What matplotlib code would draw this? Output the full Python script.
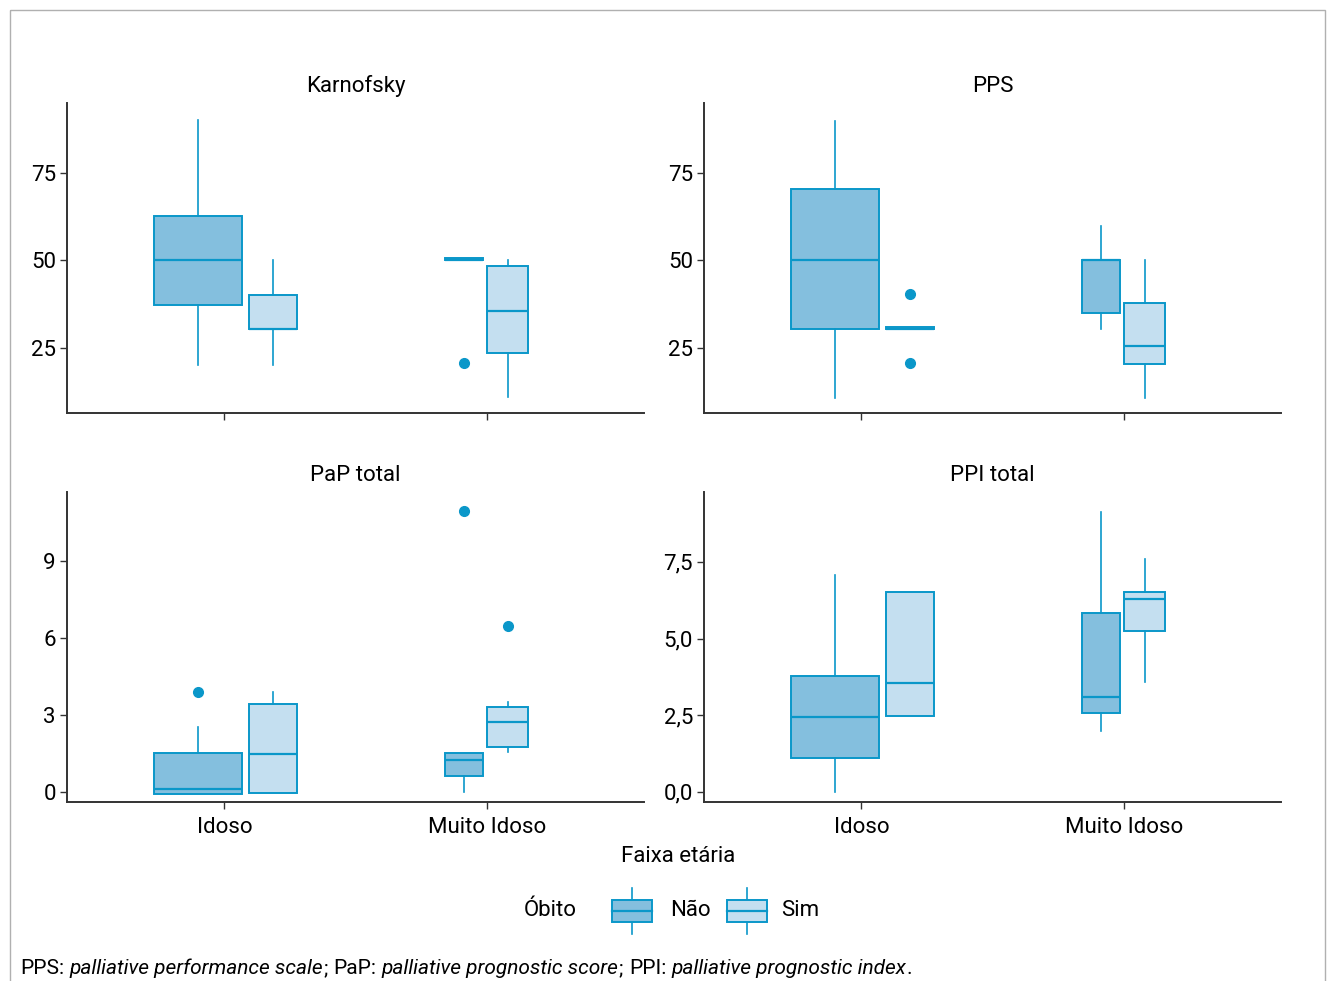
import matplotlib
matplotlib.use("Agg")
import matplotlib.pyplot as plt
from matplotlib.patches import Rectangle
from matplotlib.ticker import FuncFormatter
import numpy as np

plt.rcParams.update({"font.family": ["Roboto", "DejaVu Sans"], "font.size": 16})

W, H = 1330, 981
EDGE = "#0a97c9"
FILL = {"Não": "#84bfde", "Sim": "#c4dff0"}
AXC = "#333333"

FAIXA = ["Idoso", "Muito Idoso"]
OBITO = ["Não", "Sim"]
# patients per group (box width ~ sqrt(n)), [faixa][obito]
N_GRUPO = [[27, 8], [5, 6]]

# box stats (whislo, q1, med, q3, whishi), [faixa][obito]
KARNOFSKY = [[(20, 37.3, 50, 62.7, 89.9), (20, 30.3, 30.3, 40, 50)],
             [(50, 50, 50, 50.6, 50.6), (10.9, 23.5, 35.5, 48.3, 50)]]
KARNOFSKY_OUT = [[[], []], [[20.6], []]]

PPS = [[(10.5, 30.2, 50, 70.2, 89.8), (30.2, 30.2, 30.2, 30.9, 30.9)],
       [(30.2, 34.9, 50, 50, 59.8), (10.5, 20.4, 25.5, 37.8, 50)]]
PPS_OUT = [[[], [40.2, 20.6]], [[], []]]

PAP = [[(-0.08, -0.08, 0.1, 1.52, 2.53), (-0.03, -0.03, 1.47, 3.44, 3.9)],
       [(0, 0.63, 1.24, 1.52, 1.52), (1.54, 1.74, 2.72, 3.31, 3.5)]]
PAP_OUT = [[[3.91], []], [[10.96], [6.45]]]

PPI = [[(0, 1.09, 2.44, 3.78, 7.07), (2.49, 2.49, 3.54, 6.52, 6.52)],
       [(2.0, 2.57, 3.11, 5.83, 9.13), (3.58, 5.26, 6.29, 6.52, 7.61)]]
PPI_OUT = [[[], []], [[], []]]

# y-axis range
PANELS = [("Karnofsky", KARNOFSKY, KARNOFSKY_OUT, [25, 50, 75], (6.3, 94.9), False),
          ("PPS", PPS, PPS_OUT, [25, 50, 75], (6.3, 94.9), False),
          ("PaP total", PAP, PAP_OUT, [0, 3, 6, 9], (-0.39, 11.69), False),
          ("PPI total", PPI, PPI_OUT, [0, 2.5, 5, 7.5], (-0.33, 9.78), True)]

# axes boxes in pixels (x0, y0, x1, y1)
BOXES = [(67, 103, 644, 413), (704, 103, 1281, 413),
         (67, 492, 644, 802), (704, 492, 1281, 802)]

fig = plt.figure(figsize=(W / 100, H / 100), dpi=100)

K = 0.0716   # width per sqrt(n), data units
PAD = 0.1

for idx, (title, stats, outs, ticks, ylim, comma) in enumerate(PANELS):
    x0, y0, x1, y1 = BOXES[idx]
    ax = fig.add_axes([x0 / W, 1 - y1 / H, (x1 - x0) / W, (y1 - y0) / H])
    for i, fx in enumerate(FAIXA):
        full = [K * np.sqrt(n) for n in N_GRUPO[i]]
        left = (i + 1) - sum(full) / 2
        for j, ob in enumerate(OBITO):
            lo, q1, med, q3, hi = stats[i][j]
            pos = left + full[j] / 2
            left += full[j]
            st = dict(whislo=lo, q1=q1, med=med, q3=q3, whishi=hi, fliers=outs[i][j])
            ax.bxp([st], positions=[pos], widths=[full[j] * (1 - PAD)], patch_artist=True,
                   showcaps=False,
                   boxprops=dict(facecolor=FILL[ob], edgecolor=EDGE, linewidth=1.4),
                   medianprops=dict(color=EDGE, linewidth=1.6),
                   whiskerprops=dict(color=EDGE, linewidth=1.2),
                   flierprops=dict(marker="o", markerfacecolor=EDGE, markeredgecolor=EDGE,
                                   markersize=7))
    ax.set_ylim(*ylim)
    ax.set_xlim(0.4, 2.6)
    ax.set_xticks([1, 2])
    ax.set_xticklabels(FAIXA if idx >= 2 else ["", ""])
    ax.set_yticks(ticks)
    if comma:
        ax.yaxis.set_major_formatter(FuncFormatter(lambda v, p: f"{v:.1f}".replace(".", ",")))
    else:
        ax.yaxis.set_major_formatter(FuncFormatter(lambda v, p: f"{v:g}"))
    for s in ("top", "right"):
        ax.spines[s].set_visible(False)
    for s in ("left", "bottom"):
        ax.spines[s].set_color(AXC)
        ax.spines[s].set_linewidth(1.4)
    ax.tick_params(length=5, width=1, color=AXC, labelsize=16, pad=3)
    ax.tick_params(axis="x", pad=6)
    ax.set_facecolor("none")
    ax.set_title(title, fontsize=16, pad=8)

# overlay in pixel coordinates for frame, axis title, legend and footnote
ov = fig.add_axes([0, 0, 1, 1], zorder=-1)
ov.set_xlim(0, W)
ov.set_ylim(H, 0)
ov.axis("off")
ov.add_patch(Rectangle((10, 10), 1315, 1000, fill=False, edgecolor="#b0b0b0", linewidth=1))

top = fig.add_axes([0, 0, 1, 1])
top.set_xlim(0, W)
top.set_ylim(H, 0)
top.axis("off")
top.patch.set_alpha(0)

top.text(678, 856, "Faixa etária", ha="center", va="center", fontsize=16)
top.text(550, 911, "Óbito", ha="center", va="center", fontsize=16)
for (kx, ob, tx) in [(612, "Não", 670), (727, "Sim", 781)]:
    cx = kx + 20
    top.plot([cx, cx], [888, 934], color=EDGE, lw=1.2)
    top.add_patch(Rectangle((kx, 900), 40, 22, facecolor=FILL[ob], edgecolor=EDGE, lw=1.4, zorder=3))
    top.plot([kx, kx + 40], [911, 911], color=EDGE, lw=1.6, zorder=4)
    top.text(tx, 911, ob, ha="left", va="center", fontsize=16)

pieces = [("PPS:", "normal", 0), ("palliative performance scale", "italic", 4),
          (";", "normal", 0), ("PaP:", "normal", 4), ("palliative prognostic score", "italic", 4),
          (";", "normal", 0), ("PPI:", "normal", 4), ("palliative prognostic index", "italic", 4),
          (".", "normal", 0)]
prev = None
for s, style, gap in pieces:
    if prev is None:
        prev = top.text(20, 969, s, ha="left", va="center", fontsize=15, style=style)
    else:
        prev = top.annotate(s, xy=(1, 0), xycoords=prev, xytext=(gap, 0),
                            textcoords="offset points", ha="left", va="bottom",
                            fontsize=15, style=style)

fig.savefig("out.png", dpi=100)
